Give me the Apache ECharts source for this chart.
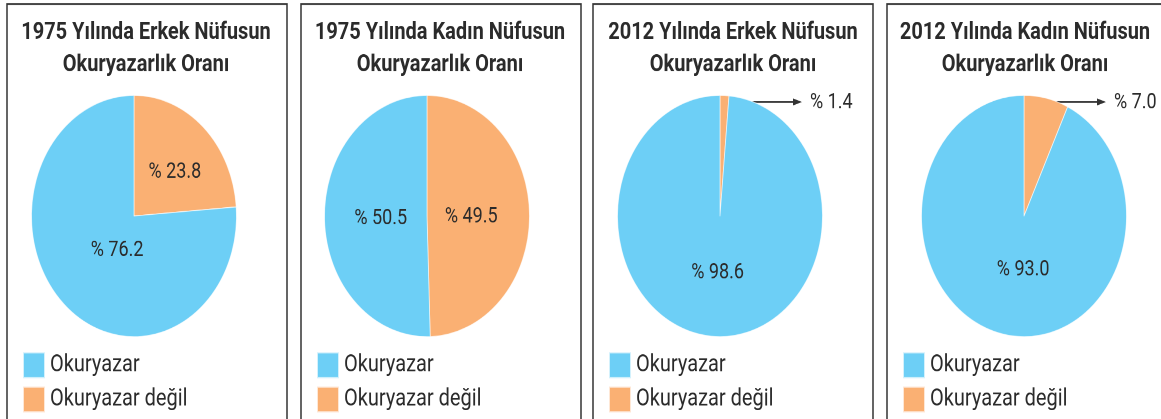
<!DOCTYPE html>
<html>
<head>
<meta charset="utf-8">
<title>Okuryazarlık Oranı</title>
<script src="https://cdn.jsdelivr.net/npm/echarts@6/dist/echarts.min.js"></script>
<style>
  html, body { margin: 0; padding: 0; background: #fff; }
  #wrap { width: 1161px; height: 419px; position: relative; overflow: hidden; }
  /* the pies in the source are drawn taller than wide, so the whole chart is stretched a bit */
  #chart { position: absolute; left: 0; top: 0; width: 1161px; height: 356px; transform: scaleY(1.17697); transform-origin: 0 0; }
</style>
</head>
<body>
<div id="wrap"><div id="chart"></div></div>
<script>
// data
const categories = ['Okuryazar', 'Okuryazar değil'];
const titles = [
  '1975 Yılında Erkek Nüfusun\nOkuryazarlık Oranı',
  '1975 Yılında Kadın Nüfusun\nOkuryazarlık Oranı',
  '2012 Yılında Erkek Nüfusun\nOkuryazarlık Oranı',
  '2012 Yılında Kadın Nüfusun\nOkuryazarlık Oranı'
];
const erkek1975 = [76.2, 23.8];
const kadin1975 = [50.5, 49.5];
const erkek2012 = [98.6, 1.4];
const kadin2012 = [93.0, 7.0];

const colors = ['#6dcff6', '#fab073'];
const textColor = '#2b2b2b';

// layout (reference pixels, y gets divided by the stretch)
const S = 419 / 356;
const Y = v => v / S;
const panelX = [7, 301, 593, 887];
const panelW = 280;
const titleX = [146, 440, 733, 1025];
const pieX = [134, 427, 720, 1024];
const pieY = 216;
const pieR = 102.5;
const arrowStart = [0, 0, 5, 13];
// small moves of the inside labels, [orange, blue] as [dx, dy]
const labelNudge = [
  [[4, 3], [20, -12]],
  [[-10, 2], [8, 2]],
  [[0, 0], [0, -7]],
  [[0, 0], [11, -8]]
];

const allValues = [erkek1975, kadin1975, erkek2012, kadin2012];

const series = allValues.map((v, i) => ({
  type: 'pie',
  center: [pieX[i], Y(pieY)],
  radius: pieR,
  startAngle: 90,
  clockwise: true,
  silent: true,
  animation: false,
  itemStyle: { borderColor: 'rgba(255,255,255,0.7)', borderWidth: 0.8 },
  label: {
    position: 'inside',
    formatter: p => '% ' + p.value.toFixed(1),
    color: textColor,
    fontSize: 18,
    fontFamily: 'Roboto'
  },
  labelLine: { show: false },
  labelLayout: p => ({ dx: labelNudge[i][p.dataIndex][0], dy: Y(labelNudge[i][p.dataIndex][1]) }),
  data: [
    // small slices get an arrow instead of an inside label
    { name: categories[1], value: v[1], itemStyle: { color: colors[1] }, label: { show: v[1] >= 10 } },
    { name: categories[0], value: v[0], itemStyle: { color: colors[0] } }
  ]
}));

const graphic = [];
panelX.forEach(x => {
  graphic.push({
    type: 'rect', z: -1, silent: true,
    shape: { x: x, y: Y(4), width: panelW, height: 400 },
    style: { fill: 'none', stroke: '#333', lineWidth: 1.5 }
  });
});
// arrows for the thin slices
allValues.forEach((v, i) => {
  if (v[1] >= 10) return;
  const ay = Y(102);
  const tip = pieX[i] + 82;
  graphic.push({
    type: 'group', silent: true,
    children: [
      { type: 'line', shape: { x1: pieX[i] + arrowStart[i], y1: ay, x2: tip - 4, y2: ay }, style: { stroke: '#333', lineWidth: 1.3 } },
      { type: 'polygon', shape: { points: [[tip - 9, ay - 3], [tip, ay], [tip - 9, ay + 3]] }, style: { fill: '#333' } },
      { type: 'text', x: pieX[i] + 90, y: ay + 1,
        style: { text: '% ' + v[1].toFixed(1), fill: textColor, font: '18px Roboto', verticalAlign: 'middle' } }
    ]
  });
});

const option = {
  backgroundColor: '#fff',
  title: titles.map((t, i) => ({
    text: t,
    left: titleX[i],
    top: 14,
    textAlign: 'center',
    padding: 0,
    textStyle: { fontFamily: 'Roboto', fontWeight: 'bold', fontSize: 20, lineHeight: 27.5, color: textColor }
  })),
  legend: panelX.map(x => ({
    orient: 'vertical',
    left: x + 15,
    top: Y(351),
    padding: 0,
    itemWidth: 22,
    itemHeight: Y(26),
    itemGap: 5,
    icon: 'rect',
    selectedMode: false,
    data: categories,
    textStyle: { fontFamily: 'Roboto', fontSize: 20, color: textColor }
  })),
  graphic: graphic,
  series: series
};

const chart = echarts.init(document.getElementById('chart'), null, { devicePixelRatio: 2 });
chart.setOption(option);
</script>
</body>
</html>
